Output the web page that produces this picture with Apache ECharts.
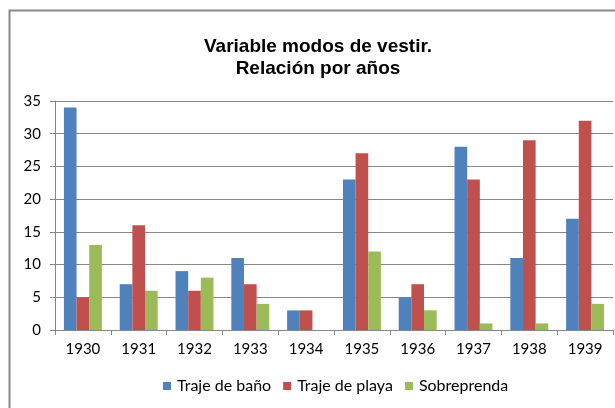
<!DOCTYPE html>
<html>
<head>
<meta charset="utf-8">
<script src="https://cdn.jsdelivr.net/npm/echarts@6/dist/echarts.min.js"></script>
<style>
html,body{margin:0;padding:0;background:#fff;}
#chart{width:615px;height:408px;}
</style>
</head>
<body>
<div id="chart"></div>
<script>
var categories = ['1930','1931','1932','1933','1934','1935','1936','1937','1938','1939'];
var trajeBano = [34, 7, 9, 11, 3, 23, 5, 28, 11, 17];
var trajePlaya = [5, 16, 6, 7, 3, 27, 7, 23, 29, 32];
var sobreprenda = [13, 6, 8, 4, 0, 12, 3, 1, 1, 4];
var seriesNames = ['Traje de baño', 'Traje de playa', 'Sobreprenda'];
var titleText = 'Variable modos de vestir.\nRelación por años';

var chart = echarts.init(document.getElementById('chart'), null, {renderer: 'canvas'});
var gridColor = '#878787';
var font = 'Lato, "Open Sans", sans-serif';
function bar(name, data, color) {
  return {
    name: name, type: 'bar', data: data,
    barGap: '0%', barCategoryGap: '32%',
    itemStyle: {color: color},
    emphasis: {disabled: true}
  };
}
chart.setOption({
  animation: false,
  backgroundColor: '#fff',
  graphic: [{
    type: 'rect', silent: true,
    shape: {x: 9.5, y: 10.5, width: 640, height: 440},
    style: {fill: 'none', stroke: '#8a8a8a', lineWidth: 2}
  }],
  title: {
    text: titleText,
    left: 313, top: 31, textAlign: 'center',
    textStyle: {fontFamily: '"Liberation Sans", Arial, sans-serif', fontWeight: 'bold', fontSize: 19, color: '#000', lineHeight: 22}
  },
  legend: {
    data: seriesNames,
    left: 163, top: 378, padding: 0,
    itemWidth: 8, itemHeight: 8, itemGap: 12,
    icon: 'rect',
    textStyle: {fontFamily: font, fontSize: 16, color: '#000', padding: [0, 0, 0, 1]}
  },
  grid: {left: 55, right: 2, top: 101, bottom: 78, containLabel: false},
  xAxis: {
    type: 'category', data: categories,
    axisLine: {lineStyle: {color: gridColor}},
    axisTick: {show: true, alignWithLabel: false, length: 5, lineStyle: {color: gridColor}},
    axisLabel: {color: '#000', fontFamily: font, fontSize: 15, margin: 12}
  },
  yAxis: {
    type: 'value', min: 0, max: 35, interval: 5,
    axisLine: {show: true, lineStyle: {color: gridColor}},
    axisTick: {show: true, length: 5, lineStyle: {color: gridColor}},
    splitLine: {lineStyle: {color: gridColor}},
    axisLabel: {color: '#000', fontFamily: font, fontSize: 15, margin: 14}
  },
  series: [
    bar(seriesNames[0], trajeBano, '#4F81BD'),
    bar(seriesNames[1], trajePlaya, '#C0504D'),
    bar(seriesNames[2], sobreprenda, '#9BBB59')
  ]
});
</script>
</body>
</html>
